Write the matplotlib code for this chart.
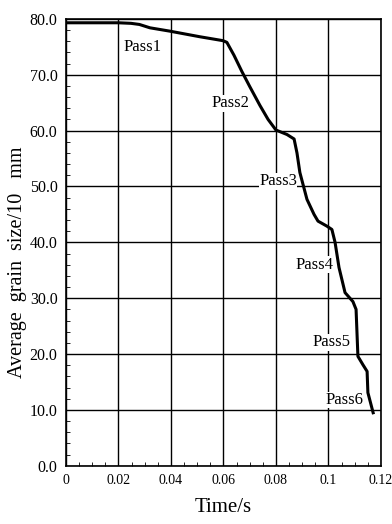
import matplotlib.pyplot as plt
from matplotlib.ticker import MultipleLocator, FixedLocator

# curve
time = [0.0, 0.010, 0.020, 0.0248, 0.0280, 0.0320, 0.0396, 0.0510, 0.0598,
        0.0613, 0.0640, 0.0670, 0.0700, 0.0739, 0.0770, 0.0800, 0.0842,
        0.0869, 0.0880, 0.0891, 0.0918, 0.0945, 0.0960, 0.0994, 0.1013,
        0.1025, 0.1040, 0.1063, 0.1093, 0.1105, 0.1112, 0.1131, 0.1147,
        0.1150, 0.1170]
grain = [79.3, 79.3, 79.3, 79.2, 79.0, 78.4, 77.8, 76.8, 76.1,
         75.8, 73.5, 70.6, 67.9, 64.5, 62.0, 60.1, 59.3,
         58.5, 56.0, 52.5, 47.7, 45.0, 43.8, 42.9, 42.3,
         40.0, 35.5, 31.0, 29.4, 28.0, 19.6, 18.1, 16.9,
         13.1, 9.5]

pass_labels = ['Pass1', 'Pass2', 'Pass3', 'Pass4', 'Pass5', 'Pass6']
pass_t = [0.0293, 0.0625, 0.0808, 0.0945, 0.1013, 0.1060]
pass_y = [75.0, 64.9, 50.9, 36.0, 22.1, 11.8]

xticks = [0, 0.02, 0.04, 0.06, 0.08, 0.1, 0.12]
xticklabels = ['0', '0.02', '0.04', '0.06', '0.08', '0.1', '0.12']
yticks = [0, 10, 20, 30, 40, 50, 60, 70, 80]

plt.rcParams['font.family'] = ['Liberation Serif', 'DejaVu Serif']

fig = plt.figure(figsize=(3.92, 5.24), dpi=100)
ax = fig.add_axes([0.168, 0.111, 0.804, 0.853])

ax.plot(time, grain, color='black', lw=2.2, zorder=3)

for lab, t, y in zip(pass_labels, pass_t, pass_y):
    ax.text(t, y, lab, fontsize=12, ha='center', va='center', zorder=2,
            bbox=dict(facecolor='white', edgecolor='none', pad=0.3))

ax.set_xlim(0, 0.12)
ax.set_ylim(0, 80)
ax.xaxis.set_major_locator(FixedLocator(xticks))
ax.set_xticklabels(xticklabels)
ax.set_yticks(yticks)
ax.set_yticklabels(['%.1f' % v for v in yticks])
ax.xaxis.set_minor_locator(MultipleLocator(0.005))
ax.yaxis.set_minor_locator(MultipleLocator(2))
ax.tick_params(which='both', direction='in', color='black')
ax.tick_params(axis='y', labelsize=11.5)
ax.tick_params(axis='x', labelsize=10)
ax.tick_params(which='major', length=0, pad=6)
ax.tick_params(which='minor', length=3)

ax.grid(which='major', color='black', lw=1.0)
for s in ax.spines.values():
    s.set_linewidth(1.2)

ax.set_xlabel('Time/s', fontsize=15, labelpad=8)
ax.set_ylabel('Average  grain  size/10   mm', fontsize=14.5)
ax.yaxis.set_label_coords(-0.124, 0.455)

plt.savefig('out.png', dpi=100)
